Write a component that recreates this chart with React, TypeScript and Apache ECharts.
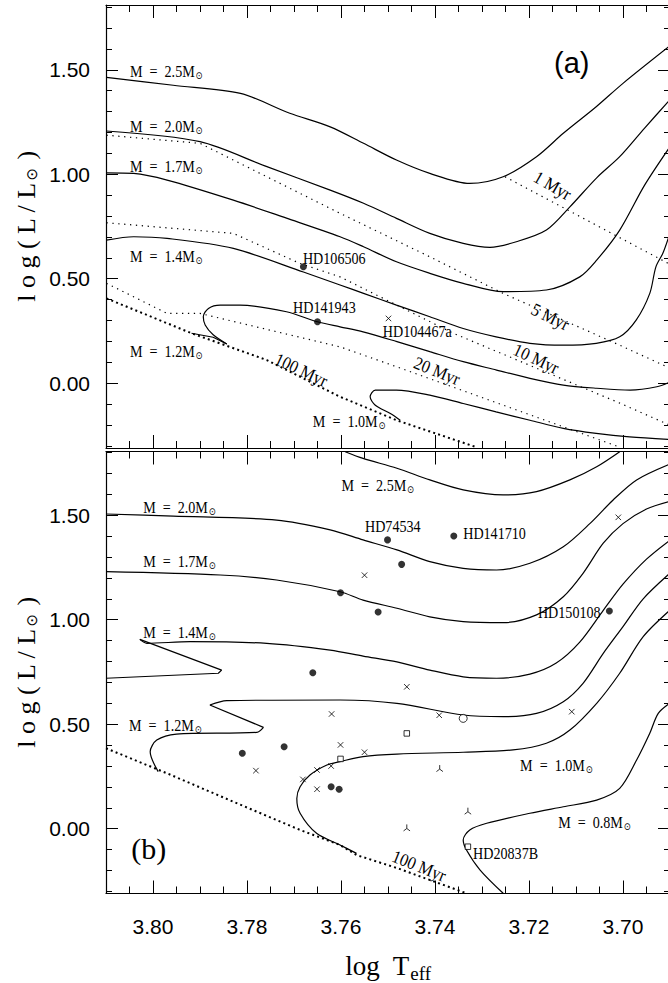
import React, { useEffect, useRef } from "react";
import * as echarts from "echarts";

type P = [number, number];

// ---------- axes ----------
const X_MIN = 3.69;
const X_MAX = 3.81;
const YA_MIN = -0.31;
const YA_MAX = 1.81;
const YB_MIN = -0.31;
const YB_MAX = 1.805;

// ---------- panel (a): evolutionary tracks ----------
const a_m25: P[] = [[3.8099,1.464],[3.7957,1.426],[3.7814,1.387],[3.7709,1.292],[3.7623,1.227],[3.7552,1.148],[3.7482,1.068],[3.7411,1.004],[3.7326,0.956],[3.7255,0.988],[3.7184,1.084],[3.7127,1.196],[3.7057,1.323],[3.7000,1.435],[3.6900,1.615]];
const a_m20: P[] = [[3.8099,1.207],[3.7900,1.156],[3.7762,1.040],[3.7623,0.924],[3.7552,0.861],[3.7482,0.789],[3.7411,0.717],[3.7340,0.669],[3.7283,0.650],[3.7227,0.677],[3.7163,0.733],[3.7113,0.844],[3.7056,0.983],[3.7007,1.084],[3.6954,1.221],[3.6900,1.357]];
const a_m17: P[] = [[3.8099,1.007],[3.8041,1.004],[3.7970,0.972],[3.7829,0.876],[3.7716,0.790],[3.7602,0.701],[3.7552,0.653],[3.7482,0.581],[3.7411,0.526],[3.7340,0.478],[3.7255,0.438],[3.7163,0.446],[3.7092,0.509],[3.7056,0.589],[3.7007,0.733],[3.6954,0.948],[3.6900,1.132]];
const a_m14: P[] = [[3.8099,0.685],[3.8041,0.701],[3.7970,0.693],[3.7829,0.645],[3.7680,0.532],[3.7602,0.470],[3.7552,0.430],[3.7482,0.374],[3.7411,0.318],[3.7340,0.262],[3.7270,0.222],[3.7198,0.191],[3.7127,0.182],[3.7057,0.191],[3.7007,0.222],[3.6972,0.302],[3.6943,0.430],[3.6930,0.557],[3.6915,0.623],[3.6900,0.719]];
const a_m12hook: P[] = [[3.7918,0.239],[3.7872,0.220],[3.7843,0.188]];
const a_m12: P[] = [[3.7843,0.188],[3.7872,0.232],[3.7889,0.279],[3.7893,0.318],[3.7882,0.358],[3.7857,0.374],[3.7815,0.374],[3.7716,0.342],[3.7650,0.294],[3.7602,0.270],[3.7553,0.246],[3.7481,0.199],[3.7411,0.151],[3.7340,0.103],[3.7269,0.063],[3.7198,0.023],[3.7127,-0.009],[3.7056,-0.024],[3.6985,-0.033],[3.6928,-0.017],[3.6900,0.006]];
const a_m10: P[] = [[3.7474,-0.177],[3.7495,-0.145],[3.7527,-0.105],[3.7538,-0.065],[3.7527,-0.033],[3.7482,-0.033],[3.7411,-0.057],[3.7340,-0.097],[3.7270,-0.137],[3.7198,-0.177],[3.7127,-0.216],[3.7057,-0.240],[3.6986,-0.257],[3.6900,-0.269]];

// ---------- panel (a): isochrones ----------
const a_iso1: P[] = [[3.7251,0.988],[3.6900,0.569]];
const a_iso5: P[] = [[3.8099,1.187],[3.7900,1.148],[3.7829,1.068],[3.7602,0.813],[3.7411,0.605],[3.7256,0.431],[3.7007,0.182],[3.6900,0.072]];
const a_iso10: P[] = [[3.8099,0.768],[3.7829,0.717],[3.7687,0.573],[3.7602,0.509],[3.7361,0.239],[3.7007,-0.095],[3.6900,-0.201]];
const a_iso20: P[] = [[3.8099,0.478],[3.7970,0.334],[3.7900,0.334],[3.7602,0.174],[3.7482,0.079],[3.7007,-0.306]];
const a_iso100: P[] = [[3.8099,0.406],[3.7918,0.239],[3.7758,0.111],[3.7602,-0.065],[3.7482,-0.177],[3.7312,-0.306]];

// ---------- panel (a): stars ----------
const a_filled: P[] = [[3.7680,0.557],[3.7650,0.294]];
const a_cross: P[] = [[3.7499,0.310]];

// ---------- panel (b): evolutionary tracks ----------
const b_m25: P[] = [[3.7591,1.804],[3.7553,1.772],[3.7481,1.725],[3.7411,1.669],[3.7340,1.621],[3.7255,1.597],[3.7184,1.613],[3.7113,1.669],[3.7056,1.732],[3.7007,1.804]];
const b_m20: P[] = [[3.8100,1.506],[3.7957,1.496],[3.7737,1.477],[3.7623,1.430],[3.7553,1.382],[3.7481,1.334],[3.7411,1.278],[3.7340,1.246],[3.7269,1.238],[3.7198,1.270],[3.7127,1.349],[3.7070,1.461],[3.7021,1.573],[3.6971,1.669],[3.6900,1.745]];
const b_m17: P[] = [[3.8100,1.230],[3.7857,1.214],[3.7737,1.190],[3.7602,1.134],[3.7553,1.094],[3.7481,1.055],[3.7411,1.014],[3.7340,0.991],[3.7255,0.986],[3.7184,1.023],[3.7127,1.110],[3.7085,1.222],[3.7042,1.366],[3.7000,1.460],[3.6950,1.530],[3.6900,1.567]];
const b_m14a: P[] = [[3.8100,0.720],[3.7861,0.744],[3.7854,0.759],[3.8028,0.906]];
const b_m14b: P[] = [[3.8028,0.906],[3.8013,0.887],[3.7921,0.895],[3.7758,0.887],[3.7623,0.855],[3.7553,0.826],[3.7481,0.798],[3.7411,0.759],[3.7340,0.727],[3.7269,0.720],[3.7198,0.740],[3.7142,0.793],[3.7092,0.893],[3.7042,1.045],[3.7000,1.170],[3.6950,1.290],[3.6900,1.381]];
const b_m12a: P[] = [[3.7989,0.273],[3.8006,0.368],[3.7992,0.424],[3.7950,0.453],[3.7779,0.461],[3.7765,0.485]];
const b_m12b: P[] = [[3.7765,0.485],[3.7879,0.592]];
const b_m12c: P[] = [[3.7879,0.592],[3.7843,0.613],[3.7602,0.616],[3.7481,0.600],[3.7340,0.544],[3.7255,0.536],[3.7184,0.552],[3.7127,0.608],[3.7085,0.696],[3.7042,0.839],[3.7000,0.967],[3.6957,1.100],[3.6900,1.223]];
const b_m10: P[] = [[3.7567,-0.118],[3.7602,-0.078],[3.7652,-0.022],[3.7687,0.074],[3.7694,0.145],[3.7687,0.201],[3.7666,0.257],[3.7630,0.305],[3.7602,0.321],[3.7553,0.345],[3.7481,0.357],[3.7340,0.366],[3.7234,0.377],[3.7163,0.409],[3.7113,0.472],[3.7056,0.600],[3.7007,0.744],[3.6957,0.919],[3.6900,1.046]];
const b_m08: P[] = [[3.7255,-0.309],[3.7304,-0.198],[3.7333,-0.102],[3.7340,-0.054],[3.7326,-0.006],[3.7290,0.026],[3.7198,0.074],[3.7127,0.105],[3.7056,0.137],[3.7007,0.193],[3.6971,0.329],[3.6943,0.457],[3.6925,0.552],[3.6900,0.601]];
const b_iso100: P[] = [[3.8100,0.385],[3.7970,0.265],[3.7829,0.129],[3.7687,-0.006],[3.7602,-0.078],[3.7567,-0.126],[3.7481,-0.188],[3.7333,-0.309]];

// ---------- panel (b): stars ----------
const b_filled: P[] = [[3.7501,1.382],[3.7360,1.401],[3.7471,1.265],[3.7601,1.129],[3.7521,1.037],[3.7029,1.042],[3.7660,0.746],[3.7721,0.392],[3.7810,0.361],[3.7621,0.201],[3.7604,0.189]];
const b_cross: P[] = [[3.7010,1.490],[3.7550,1.213],[3.7460,0.679],[3.7620,0.549],[3.7391,0.543],[3.7109,0.560],[3.7601,0.401],[3.7550,0.366],[3.7621,0.300],[3.7781,0.278],[3.7681,0.236],[3.7651,0.281],[3.7651,0.189]];
const b_open: P[] = [[3.7340,0.528]];
const b_square: P[] = [[3.7460,0.456],[3.7601,0.334],[3.7330,-0.086]];
const b_tri: P[] = [[3.7390,0.289],[3.7330,0.085],[3.7460,0.005]];

// ---------- annotations (data coordinates) ----------
const massLabels = [
  { p: 0, x: 3.8049, y: 1.494, m: "2.5" },
  { p: 0, x: 3.8049, y: 1.231, m: "2.0" },
  { p: 0, x: 3.8049, y: 1.039, m: "1.7" },
  { p: 0, x: 3.8049, y: 0.609, m: "1.4" },
  { p: 0, x: 3.8049, y: 0.154, m: "1.2" },
  { p: 0, x: 3.7660, y: -0.181, m: "1.0" },
  { p: 1, x: 3.7599, y: 1.645, m: "2.5" },
  { p: 1, x: 3.8021, y: 1.540, m: "2.0" },
  { p: 1, x: 3.8021, y: 1.281, m: "1.7" },
  { p: 1, x: 3.8021, y: 0.941, m: "1.4" },
  { p: 1, x: 3.8051, y: 0.496, m: "1.2" },
  { p: 1, x: 3.7219, y: 0.305, m: "1.0" },
  { p: 1, x: 3.7138, y: 0.032, m: "0.8" },
];
const starLabels = [
  { p: 0, x: 3.7681, y: 0.599, t: "HD106506" },
  { p: 0, x: 3.7702, y: 0.365, t: "HD141943" },
  { p: 0, x: 3.7511, y: 0.250, t: "HD104467a" },
  { p: 1, x: 3.7549, y: 1.448, t: "HD74534" },
  { p: 1, x: 3.7340, y: 1.414, t: "HD141710" },
  { p: 1, x: 3.7181, y: 1.036, t: "HD150108" },
  { p: 1, x: 3.7319, y: -0.117, t: "HD20837B" },
];
const ageLabels = [
  { p: 0, x: 3.7150, y: 0.945, t: "1 Myr", r: -30 },
  { p: 0, x: 3.7155, y: 0.317, t: "5 Myr", r: -26 },
  { p: 0, x: 3.7185, y: 0.116, t: "10 Myr", r: -25 },
  { p: 0, x: 3.7396, y: 0.058, t: "20 Myr", r: -22 },
  { p: 0, x: 3.7685, y: 0.063, t: "100 Myr", r: -25 },
  { p: 1, x: 3.7434, y: -0.179, t: "100 Myr", r: -22 },
];

const SERIF = "'Liberation Serif', 'Times New Roman', serif";
const NUMF = "'Liberation Sans', Arial, sans-serif";
const SANS = "'Liberation Sans', Arial, sans-serif";

const GRIDS = [
  { left: 106, top: 5, width: 564, height: 443 },
  { left: 106, top: 451.5, width: 564, height: 442 },
];

function xAxis(gridIndex: number, position: string, labels: boolean) {
  return {
    type: "value", gridIndex, position, inverse: true, min: X_MIN, max: X_MAX,
    minInterval: 0.02, maxInterval: 0.02, splitNumber: 6,
    axisLine: { show: true, onZero: false, lineStyle: { color: "#000", width: 1.2 } },
    axisTick: { show: true, inside: true, length: 13, lineStyle: { color: "#000", width: 1 } },
    minorTick: { show: true, splitNumber: 4, length: 7, lineStyle: { color: "#000", width: 1 } },
    splitLine: { show: false }, minorSplitLine: { show: false },
    axisLabel: {
      show: labels, margin: 22, fontSize: 21, fontFamily: NUMF, color: "#000",
      showMinLabel: false, showMaxLabel: false,
      formatter: (v: number) => v.toFixed(2),
    },
  };
}
function yAxis(gridIndex: number, position: string, min: number, max: number, labels: boolean) {
  return {
    type: "value", gridIndex, position, min, max,
    minInterval: 0.5, maxInterval: 0.5, splitNumber: 4,
    axisLine: { show: true, onZero: false, lineStyle: { color: "#000", width: 1.2 } },
    axisTick: { show: true, inside: true, length: 12, lineStyle: { color: "#000", width: 1 } },
    minorTick: { show: true, splitNumber: 5, length: 6, lineStyle: { color: "#000", width: 1 } },
    splitLine: { show: false }, minorSplitLine: { show: false },
    axisLabel: {
      show: labels, margin: 16, fontSize: 21, fontFamily: NUMF, color: "#000",
      showMinLabel: false, showMaxLabel: false,
      formatter: (v: number) => v.toFixed(2),
    },
  };
}

function track(data: P[], p: number, smooth: number | boolean = 0.3) {
  return {
    type: "line", data, xAxisIndex: p * 2, yAxisIndex: p * 2, showSymbol: false, symbol: "none",
    smooth, silent: true, clip: true,
    lineStyle: { color: "#000", width: 1.2 },
  };
}
function iso(data: P[], p: number, heavy = false) {
  return {
    type: "line", data, xAxisIndex: p * 2, yAxisIndex: p * 2, showSymbol: false, symbol: "none",
    smooth: false, silent: true, clip: true,
    lineStyle: heavy
      ? { color: "#000", width: 2, type: [2, 3.2], cap: "butt" }
      : { color: "#000", width: 1.2, type: [1.3, 4.6], cap: "butt" },
  };
}
const CROSS = "path://M0,0L8,8M8,0L0,8";
const TRI = "path://M4,0L4,5M4,5L0,8M4,5L8,8";
function pts(data: P[], p: number, kind: string) {
  const base: any = {
    type: "scatter", data, xAxisIndex: p * 2, yAxisIndex: p * 2, silent: true, z: 5,
  };
  if (kind === "filled") return { ...base, symbol: "circle", symbolSize: 7, itemStyle: { color: "#000" } };
  if (kind === "cross") return { ...base, symbol: CROSS, symbolSize: 5.5, itemStyle: { color: "rgba(0,0,0,0)", borderColor: "#000", borderWidth: 1 } };
  if (kind === "open") return { ...base, symbol: "circle", symbolSize: 8, itemStyle: { color: "#fff", borderColor: "#000", borderWidth: 1 } };
  if (kind === "square") return { ...base, symbol: "rect", symbolSize: 5.5, itemStyle: { color: "#fff", borderColor: "#000", borderWidth: 1 } };
  return { ...base, symbol: TRI, symbolSize: 6.5, itemStyle: { color: "rgba(0,0,0,0)", borderColor: "#000", borderWidth: 1 } };
}

function buildOption() {
  return {
    animation: false,
    backgroundColor: "#fff",
    grid: GRIDS.map((g) => ({ ...g, containLabel: false, outerBoundsMode: "none" })),
    xAxis: [xAxis(0, "bottom", false), xAxis(0, "top", false), xAxis(1, "bottom", true), xAxis(1, "top", false)],
    yAxis: [yAxis(0, "left", YA_MIN, YA_MAX, true), yAxis(0, "right", YA_MIN, YA_MAX, false), yAxis(1, "left", YB_MIN, YB_MAX, true), yAxis(1, "right", YB_MIN, YB_MAX, false)],
    series: [
      track(a_m25, 0), track(a_m20, 0), track(a_m17, 0), track(a_m14, 0),
      track(a_m12hook, 0, false), track(a_m12, 0), track(a_m10, 0),
      iso(a_iso1, 0), iso(a_iso5, 0), iso(a_iso10, 0), iso(a_iso20, 0), iso(a_iso100, 0, true),
      pts(a_filled, 0, "filled"), pts(a_cross, 0, "cross"),
      track(b_m25, 1), track(b_m20, 1), track(b_m17, 1),
      track(b_m14a, 1, false), track(b_m14b, 1),
      track(b_m12a, 1), track(b_m12b, 1, false), track(b_m12c, 1),
      track(b_m10, 1), track(b_m08, 1),
      iso(b_iso100, 1, true),
      pts(b_filled, 1, "filled"), pts(b_cross, 1, "cross"), pts(b_open, 1, "open"),
      pts(b_square, 1, "square"), pts(b_tri, 1, "tri"),
    ],
  };
}

export default function App() {
  const ref = useRef<HTMLDivElement>(null);
  useEffect(() => {
    const el = ref.current;
    if (!el) return;
    const chart = echarts.init(el, null, { renderer: "svg" });
    chart.setOption(buildOption() as any);
    const toPx = (p: number, x: number, y: number) =>
      chart.convertToPixel({ xAxisIndex: p * 2, yAxisIndex: p * 2 } as any, [x, y]) as unknown as number[];
    const g: any[] = [];
    massLabels.forEach((l) => {
      const [px, py] = toPx(l.p, l.x, l.y);
      g.push({
        type: "text", x: px, y: py, scaleX: 0.83, silent: true, z: 100,
        style: {
          text: `{m|M  =  ${l.m}M}{s|⊙}`, fill: "#000",
          align: "left", verticalAlign: "middle", textAlign: "left", textVerticalAlign: "middle",
          rich: {
            m: { fontSize: 17, fontFamily: SERIF, fill: "#000" },
            s: { fontSize: 10, fontFamily: "'DejaVu Sans', sans-serif", fill: "#000", padding: [9, 0, 0, 1] },
          },
        },
      });
    });
    starLabels.forEach((l) => {
      const [px, py] = toPx(l.p, l.x, l.y);
      g.push({
        type: "text", x: px, y: py, scaleX: 0.83, silent: true, z: 100,
        style: { text: l.t, fill: "#000", fontSize: 17, fontFamily: SERIF, align: "left", verticalAlign: "middle", textAlign: "left", textVerticalAlign: "middle" },
      });
    });
    ageLabels.forEach((l) => {
      const [px, py] = toPx(l.p, l.x, l.y);
      g.push({
        type: "text", x: px, y: py, scaleX: 0.9, rotation: (l.r * Math.PI) / 180, silent: true, z: 100,
        style: { text: l.t, fill: "#000", fontSize: 18, fontFamily: SERIF, align: "center", verticalAlign: "middle", textAlign: "center", textVerticalAlign: "middle" },
      });
    });
    // panel tags
    const [ax, ay] = toPx(0, 3.7109, 1.532);
    g.push({ type: "text", x: ax, y: ay, silent: true, z: 100, style: { text: "(a)", fill: "#000", fontSize: 29, fontFamily: SANS, align: "center", verticalAlign: "middle", textAlign: "center", textVerticalAlign: "middle" } });
    const [bx, by] = toPx(1, 3.8009, -0.097);
    g.push({ type: "text", x: bx, y: by, silent: true, z: 100, style: { text: "(b)", fill: "#000", fontSize: 30, fontFamily: SERIF, align: "center", verticalAlign: "middle", textAlign: "center", textVerticalAlign: "middle" } });
    // axis titles
    GRIDS.forEach((gr) => {
      g.push({
        type: "text", x: 26, y: gr.top + gr.height / 2, rotation: Math.PI / 2, silent: true, z: 100,
        style: {
          text: "{a|l o g ( L / L}{s|⊙}{a| )}", fill: "#000",
          align: "center", verticalAlign: "middle", textAlign: "center", textVerticalAlign: "middle",
          rich: {
            a: { fontSize: 26, fontFamily: SERIF, fill: "#000" },
            s: { fontSize: 15, fontFamily: "'DejaVu Sans', sans-serif", fill: "#000", padding: [11, 2, 0, 2] },
          },
        },
      });
    });
    const g2 = GRIDS[1];
    g.push({
      type: "text", x: g2.left + g2.width / 2, y: 966, silent: true, z: 100,
      style: {
        text: "{a|log  T}{b|eff}", fill: "#000",
        align: "center", verticalAlign: "middle", textAlign: "center", textVerticalAlign: "middle",
        rich: {
          a: { fontSize: 27, fontFamily: SERIF, fill: "#000" },
          b: { fontSize: 19, fontFamily: SERIF, fill: "#000", padding: [14, 0, 0, 1] },
        },
      },
    });
    chart.setOption({ graphic: g } as any);
    return () => chart.dispose();
  }, []);
  return <div ref={ref} style={{ position: "absolute", left: 0, top: 0, width: 668, height: 983, background: "#fff" }} />;
}
